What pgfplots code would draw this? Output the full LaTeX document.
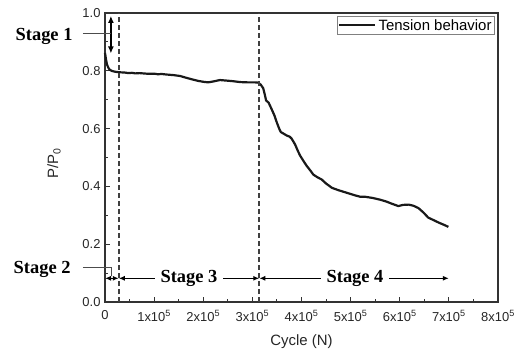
\documentclass[border=0pt]{standalone}
\usepackage{fontspec}
\setmainfont{Liberation Sans}
\newfontfamily\tnr{Liberation Serif}
\usepackage{pgfplots}
\pgfplotsset{compat=1.18}
\usetikzlibrary{arrows.meta}
\begin{document}
\begin{tikzpicture}[x=1bp,y=1bp]
\begin{axis}[
  at={(0,0)}, anchor=south west,
  scale only axis, width=393bp, height=289bp,
  xmin=0, xmax=800000, ymin=0, ymax=1.0,
  clip=false,
  axis line style={draw=black!80, line width=1.2pt},
  tick align=inside,
  xtick pos=bottom, ytick pos=left,
  xtick={0,100000,200000,300000,400000,500000,600000,700000,800000},
  xticklabels={0,1x10\textsuperscript{5},2x10\textsuperscript{5},3x10\textsuperscript{5},4x10\textsuperscript{5},5x10\textsuperscript{5},6x10\textsuperscript{5},7x10\textsuperscript{5},8x10\textsuperscript{5}},
  minor xtick={50000,150000,250000,350000,450000,550000,650000,750000},
  ytick={0,0.2,0.4,0.6,0.8,1.0},
  minor ytick={0.1,0.3,0.5,0.7,0.9},
  yticklabel style={/pgf/number format/fixed, /pgf/number format/fixed zerofill, /pgf/number format/precision=1, /pgf/number format/assume math mode=true, xshift=-1bp},
  xticklabel style={yshift=-5bp},
  scaled x ticks=false,
  tick style={black!80, line width=1.1pt},
  major tick length=5bp, minor tick length=3bp,
  ticklabel style={font=\fontsize{13}{15}\selectfont, text=black!85},
  xlabel={Cycle (N)}, ylabel={P/P\textsubscript{0}},
  label style={font=\fontsize{15}{17}\selectfont, text=black!85},
  xlabel style={yshift=-7bp},
  ylabel style={yshift=15bp, xshift=-6bp},
  legend style={at={(0.992,0.99)}, anchor=north east, draw=black!50, line width=0.6pt,
    font=\fontsize{15}{17}\selectfont, inner sep=1bp, row sep=0pt},
  legend cell align=left,
  legend image code/.code={\draw[#1] (0bp,0bp) -- (36bp,0bp);},
]
\addplot[black!90, line width=2.2pt, line join=round] table {
x y
0 0.862
2000 0.840
4000 0.822
7000 0.810
10000 0.803
15000 0.799
20000 0.797
28000 0.795
40000 0.794
48000 0.792
55000 0.793
62000 0.791
70000 0.792
85000 0.790
100000 0.790
108000 0.788
115000 0.789
126000 0.787
140000 0.785
153000 0.782
165000 0.776
178000 0.770
190000 0.765
200000 0.762
210000 0.760
220000 0.763
234000 0.768
248000 0.766
261000 0.764
275000 0.761
290000 0.760
305000 0.760
312000 0.759
317000 0.752
322000 0.740
325000 0.720
328000 0.697
333000 0.690
339000 0.668
345000 0.645
350000 0.620
355000 0.598
358000 0.588
364000 0.582
370000 0.576
376000 0.572
380000 0.565
387000 0.545
392000 0.525
397000 0.507
404000 0.488
411000 0.470
418000 0.455
424000 0.441
432000 0.432
441000 0.424
450000 0.410
462000 0.395
475000 0.387
492000 0.378
509000 0.369
520000 0.364
530000 0.364
545000 0.360
560000 0.354
572000 0.348
584000 0.340
597000 0.332
607000 0.336
618000 0.337
628000 0.333
638000 0.325
648000 0.310
658000 0.292
668000 0.284
679000 0.275
690000 0.267
699000 0.260
};
\addlegendentry{Tension behavior}
% dashed stage boundaries
\draw[black!75, line width=1.6pt, dash pattern=on 5bp off 3bp] (axis cs:28000,0) -- (axis cs:28000,1.0);
\draw[black!75, line width=1.6pt, dash pattern=on 5bp off 3bp] (axis cs:314000,0) -- (axis cs:314000,1.0);
% Stage 1
\draw[black, line width=1.5pt, {Latex[length=7bp,width=6bp]}-{Latex[length=7bp,width=6bp]}] (axis cs:12000,0.99) -- (axis cs:12000,0.86);
\draw[black!70, line width=0.8pt] (axis cs:-45000,0.931) -- (axis cs:12000,0.931);
\node[font=\tnr\bfseries\fontsize{18.5}{20}\selectfont, anchor=center] at (axis cs:-124000,0.92) {Stage 1};
% Stage 2
\node[font=\tnr\bfseries\fontsize{18.5}{20}\selectfont, anchor=center] at (axis cs:-128000,0.112) {Stage 2};
\draw[black!70, line width=0.8pt] (axis cs:-45000,0.119) -- (axis cs:14000,0.119) -- (axis cs:14000,0.09);
\draw[black, line width=1.5pt, {Latex[length=6bp,width=5bp]}-{Latex[length=6bp,width=5bp]}] (axis cs:0,0.082) -- (axis cs:28000,0.082);
% Stage 3
\draw[black, line width=1.5pt, {Latex[length=6bp,width=5bp]}-{Latex[length=6bp,width=5bp]}] (axis cs:28000,0.082) -- (axis cs:314000,0.082);
\node[font=\tnr\bfseries\fontsize{18.5}{20}\selectfont, fill=white, inner xsep=6bp, inner ysep=1bp] at (axis cs:171000,0.082) {Stage 3};
% Stage 4
\draw[black, line width=1.5pt, {Latex[length=6bp,width=5bp]}-{Latex[length=6bp,width=5bp]}] (axis cs:314000,0.082) -- (axis cs:700000,0.082);
\node[font=\tnr\bfseries\fontsize{18.5}{20}\selectfont, fill=white, inner xsep=6bp, inner ysep=1bp] at (axis cs:509000,0.082) {Stage 4};
\end{axis}
\pgfresetboundingbox
\path[use as bounding box] (-105,-51) rectangle (413,302);
\end{tikzpicture}
\end{document}
